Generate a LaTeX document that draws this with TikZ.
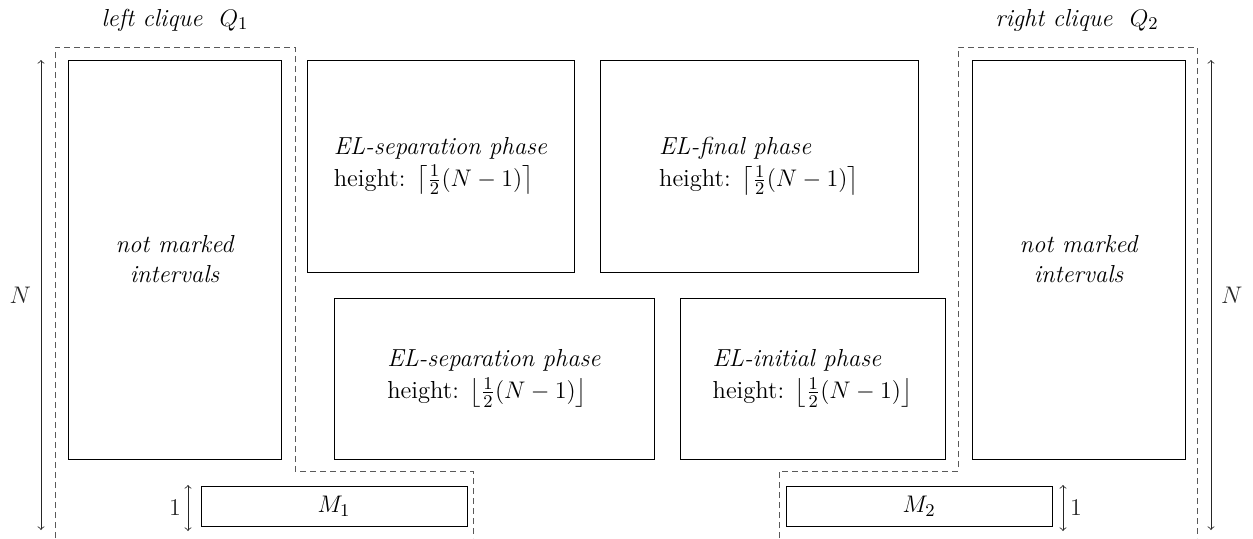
\documentclass[tikz,border=0pt]{standalone}
\usepackage{amsmath}
\usetikzlibrary{positioning}
\tikzset{
  block/.style={draw, inner sep=0pt, outer sep=0pt, align=center},
  free/.style={block, font=\fontsize{12.3}{15}\selectfont\itshape},
  phase/.style={block, align=left},
  clique/.style={draw=black!65, dash pattern=on 3pt off 2pt},
  dimline/.style={<->, black!85},
  tag/.style={font=\fontsize{12.3}{15}\selectfont\itshape},
}

\begin{document}
\begin{tikzpicture}[x=0.5pt, y=-0.5pt, font=\fontsize{12.3}{15}\selectfont]
\useasboundingbox (0,0) rectangle (1253,538);

% ---- left clique -----------------------------------------------------
\node[free, minimum width=106.5pt, minimum height=199.5pt] (lfree) at (174.5,259.5)
  {not marked\\intervals};
\draw[clique] (55,538) -- (55,47) -- (295,47) -- (295,471) -- (473,471) -- (473,538);
\node[tag] (qone) at (175,20) {left clique~~\upshape$Q_1$};

% ---- phases ----------------------------------------------------------
\node[phase, minimum width=133.5pt, minimum height=106pt] (septop) at (440.5,166)
  {\textit{EL-separation phase}\\[1pt]height: $\left\lceil\frac{1}{2}(N-1)\right\rceil$};
\node[phase, minimum width=159pt, minimum height=106pt] (final) at (759,166)
  {\textit{EL-final phase}\\[1pt]height: $\left\lceil\frac{1}{2}(N-1)\right\rceil$};
\node[phase, minimum width=160pt, minimum height=80.5pt] (sepbot) at (494,378.5)
  {\textit{EL-separation phase}\\[1pt]height: $\left\lfloor\frac{1}{2}(N-1)\right\rfloor$};
\node[phase, minimum width=132.5pt, minimum height=80.5pt] (initial) at (812.5,378.5)
  {\textit{EL-initial phase}\\[1pt]height: $\left\lfloor\frac{1}{2}(N-1)\right\rfloor$};

% ---- right clique ----------------------------------------------------
\node[free, minimum width=106.5pt, minimum height=199.5pt] (rfree) at (1078.5,259.5)
  {not marked\\intervals};
\draw[clique] (779,538) -- (779,471) -- (958,471) -- (958,47) -- (1197,47) -- (1197,538);
\node[tag] (qtwo) at (1077,20) {right clique~~\upshape$Q_2$};

% ---- markers ---------------------------------------------------------
\node[block, minimum width=133pt, minimum height=20pt] (mone) at (334,506) {$M_1$};
\node[block, minimum width=133pt, minimum height=20pt] (mtwo) at (919,506) {$M_2$};

% ---- heights ---------------------------------------------------------
\coordinate (ntopl) at (41,60);
\coordinate (nbotl) at (41,530);
\coordinate (ntopr) at (1211,60);
\coordinate (nbotr) at (1211,530);
\coordinate (onetopl) at (188,485);
\coordinate (onebotl) at (188,531);
\coordinate (onetopr) at (1063,485);
\coordinate (onebotr) at (1063,531);

\draw[dimline] (ntopl) -- node[left=1.5pt] {$N$} (nbotl);
\draw[dimline] (ntopr) -- node[right=1.5pt] {$N$} (nbotr);
\draw[dimline] (onetopl) -- node[left] {$1$} (onebotl);
\draw[dimline] (onetopr) -- node[right] {$1$} (onebotr);

\end{tikzpicture}
\end{document}
